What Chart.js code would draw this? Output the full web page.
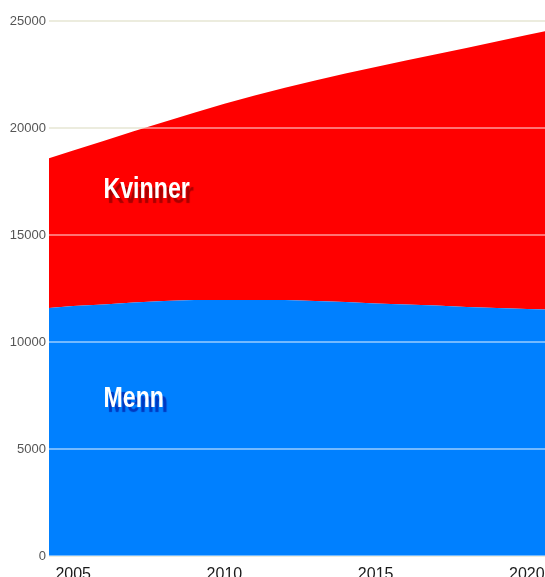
<!DOCTYPE html>
<html>
<head>
<meta charset="utf-8">
<script src="https://cdn.jsdelivr.net/npm/chart.js@4"></script>
<style>
  html, body { margin: 0; padding: 0; background: #fff; }
  #wrap { width: 545px; height: 577px; }
</style>
</head>
<body>
<div id="wrap"><canvas id="area-chart"></canvas></div>
<script>
// population by sex, 2004-2021
const years  = [2004, 2005, 2006, 2007, 2008, 2009, 2010, 2011, 2012, 2013, 2014, 2015, 2016, 2017, 2018, 2019, 2020, 2021];
const menn   = [11565, 11682, 11752, 11846, 11916, 11963, 11963, 11963, 11963, 11916, 11869, 11799, 11752, 11706, 11636, 11589, 11542, 11495];
const totalt = [18490, 18944, 19397, 19850, 20285, 20710, 21130, 21520, 21880, 22220, 22545, 22855, 23150, 23444, 23743, 24042, 24341, 24640];
const kvinner = totalt.map((t, i) => t - menn[i]);

const xTicks = [2005, 2010, 2015, 2020];
const yTicks = [0, 5000, 10000, 15000, 20000, 25000];

const toPoints = arr => arr.map((v, i) => ({ x: years[i], y: v }));

// white labels with a dark drop shadow, placed in data coordinates
const seriesLabels = [
    { text: 'Kvinner', x: 2006, y: 16750, shadow: '#a80000' },
    { text: 'Menn',    x: 2006, y: 6950,  shadow: '#0038c0' }
];

const labelPlugin = {
    id: 'seriesLabels',
    afterDatasetsDraw(chart) {
        const ctx = chart.ctx;
        const xs = chart.scales.x, ys = chart.scales.y;
        seriesLabels.forEach(l => {
            const px = xs.getPixelForValue(l.x);
            const py = ys.getPixelForValue(l.y);
            ctx.save();
            // condensed look: squeeze horizontally around the anchor
            ctx.translate(px, py);
            ctx.scale(0.8, 1);
            ctx.font = 'bold 29px "Liberation Sans", sans-serif';
            ctx.textBaseline = 'alphabetic';
            ctx.shadowColor = l.shadow;
            ctx.shadowOffsetX = 4;
            ctx.shadowOffsetY = 5;
            ctx.shadowBlur = 1;
            ctx.fillStyle = '#ffffff';
            ctx.fillText(l.text, 0, 0);
            ctx.restore();
        });
    }
};

const areaChartElem = document.getElementById('area-chart').getContext('2d');
const areaChart = new Chart(areaChartElem, {
    type: 'line',
    data: {
        datasets: [{
            label: 'Menn',
            data: toPoints(menn),
            backgroundColor: '#0080ff',
            borderWidth: 0,
            pointRadius: 0,
            fill: 'origin',
            yAxisID: 'y'
        },
        {
            label: 'Kvinner',
            data: toPoints(kvinner),
            backgroundColor: '#ff0000',
            borderWidth: 0,
            pointRadius: 0,
            fill: '-1',
            yAxisID: 'y'
        }]
    },
    options: {
        responsive: true,
        maintainAspectRatio: false,
        animation: false,
        layout: { padding: { top: 21, right: 0, left: 0, bottom: 0 } },
        plugins: {
            legend: { display: false },
            tooltip: { enabled: false }
        },
        scales: {
            x: {
                type: 'linear',
                min: 2004.2,
                max: 2020.6,
                grid: { display: false },
                border: { display: false },
                afterBuildTicks: scale => { scale.ticks = xTicks.map(v => ({ value: v })); },
                afterFit: scale => {
                    scale.height = 21;
                    scale.paddingLeft = 0;
                    scale.paddingRight = 0;
                },
                ticks: {
                    padding: 1,
                    maxRotation: 0,
                    color: '#1a1a1a',
                    font: { family: '"Liberation Sans", sans-serif', size: 16 },
                    callback: v => String(v)
                }
            },
            y: {
                stacked: true,
                min: 0,
                max: 25000,
                afterBuildTicks: scale => { scale.ticks = yTicks.map(v => ({ value: v })); },
                afterFit: scale => { scale.width = 49; },
                grid: { color: '#dcdcc4', lineWidth: 2, drawTicks: false, z: -1 },
                border: { display: false },
                ticks: {
                    padding: 3,
                    color: '#555',
                    font: { family: '"Liberation Sans", sans-serif', size: 13 },
                    callback: v => String(v)
                }
            },
            // translucent gridlines painted over the filled areas
            yTop: {
                position: 'left',
                min: 0,
                max: 25000,
                afterBuildTicks: scale => { scale.ticks = yTicks.map(v => ({ value: v })); },
                afterFit: scale => { scale.width = 0; },
                grid: { color: 'rgba(255,255,255,0.45)', lineWidth: 2, drawTicks: false, z: 1 },
                border: { display: false },
                ticks: { display: false }
            }
        }
    },
    plugins: [labelPlugin]
});
</script>
</body>
</html>
